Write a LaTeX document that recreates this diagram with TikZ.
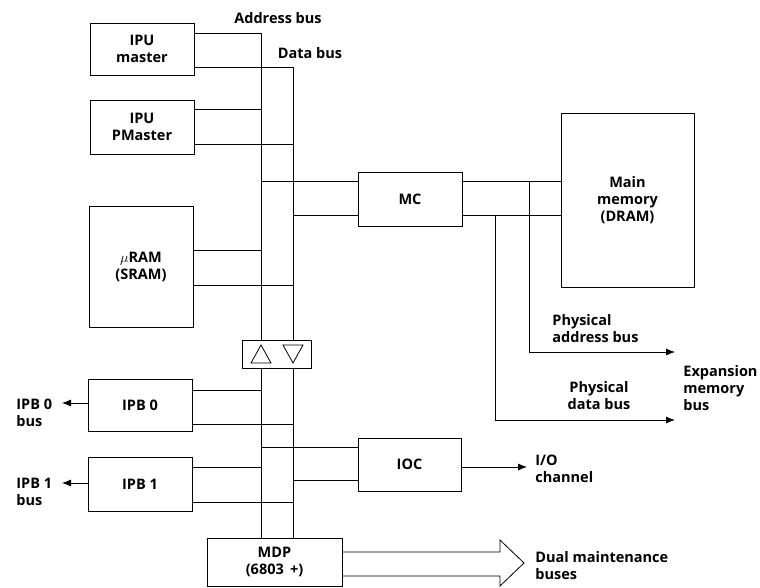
\documentclass[tikz,border=0pt]{standalone}
\usepackage{fontspec}
\setmainfont{Open Sans}
\usetikzlibrary{arrows.meta,calc}
\begin{document}
\begin{tikzpicture}[x=1pt,y=-1pt,
  line width=0.8pt,
  every node/.style={font=\fontsize{14.5}{17}\selectfont\bfseries},
  blk/.style={draw,align=center,inner sep=0pt},
  lbl/.style={align=left,inner sep=0pt},
  arr/.style={-{Latex[length=9pt,width=7pt]}}]
\useasboundingbox (0,0) rectangle (760,588);
% blocks
\node[blk,minimum width=104,minimum height=52] (ipum) at (142,49) {IPU\\master};
\node[blk,minimum width=104,minimum height=54] (ipup) at (142,127) {IPU\\PMaster};
\node[blk,minimum width=104,minimum height=121] (uram) at (141,266.5) {$\mu$RAM\\(SRAM)};
\node[blk,minimum width=69,minimum height=28] (buf) at (276.5,354) {};
\node[blk,minimum width=104,minimum height=52] (ipb0) at (140,405) {IPB 0};
\node[blk,minimum width=104,minimum height=54] (ipb1) at (140,484) {IPB 1};
\node[blk,minimum width=135,minimum height=48] (mdp) at (274.5,562) {MDP\\(6803\ \,+)};
\node[blk,minimum width=104,minimum height=54] (mc) at (410,199) {MC};
\node[blk,minimum width=133,minimum height=174] (mm) at (627.5,200) {Main\\memory\\(DRAM)};
\node[blk,minimum width=103,minimum height=53] (ioc) at (409.5,464.5) {IOC};
% bus coordinates
\coordinate (atop) at (261,33);
\coordinate (dtop) at (293,67);
% buses
\draw (ipum.east |- atop) -- (atop) -- (buf.north -| atop);
\draw (ipum.east |- dtop) -- (dtop) -- (buf.north -| dtop);
\draw (buf.south -| atop) -- (mdp.north -| atop);
\draw (buf.south -| dtop) -- (mdp.north -| dtop);
% buffer triangles
\draw ($(buf.center -| atop)+(-10,9)$) -- ++(20,0) -- ++(-10,-18) -- cycle;
\draw ($(buf.center -| dtop)+(-10,-9)$) -- ++(20,0) -- ++(-10,18) -- cycle;
% block to bus connections
\draw (ipup.east |- 0,109) -- (atop |- 0,109);
\draw (ipup.east |- 0,144) -- (dtop |- 0,144);
\draw (uram.east |- 0,250) -- (atop |- 0,250);
\draw (uram.east |- 0,285) -- (dtop |- 0,285);
\draw (ipb0.east |- 0,390) -- (atop |- 0,390);
\draw (ipb0.east |- 0,424) -- (dtop |- 0,424);
\draw (ipb1.east |- 0,467) -- (atop |- 0,467);
\draw (ipb1.east |- 0,502) -- (dtop |- 0,502);
\draw (atop |- 0,181) -- (mc.west |- 0,181);
\draw (dtop |- 0,215) -- (mc.west |- 0,215);
\draw (atop |- 0,447) -- (ioc.west |- 0,447);
\draw (dtop |- 0,480) -- (ioc.west |- 0,480);
% MC to main memory
\draw (mc.east |- 0,181) -- (mm.west |- 0,181);
\draw (mc.east |- 0,215) -- (mm.west |- 0,215);
\coordinate (pa) at (529,181);
\coordinate (pd) at (495,215);
\coordinate (paend) at (675,352);
\coordinate (pdend) at (675,420);
\draw[arr] (pa) -- (pa |- paend) -- (paend);
\draw[arr] (pd) -- (pd |- pdend) -- (pdend);
% outputs
\coordinate (io) at (527,467);
\draw[arr] (ioc.east |- io) -- (io);
\coordinate (b0) at (62,403);
\coordinate (b1) at (62,483);
\draw[arr] (ipb0.west |- b0) -- (b0);
\draw[arr] (ipb1.west |- b1) -- (b1);
% big hollow arrow
\draw[line join=miter] (mdp.east |- 0,552) -- (500,552) -- (500,540) -- (524,563) -- (500,586) -- (500,576) -- (mdp.east |- 0,576);
% labels
\node[lbl] (lab) at (278,18) {Address bus};
\node[lbl] (ldb) at (310,53) {Data bus};
\node[lbl,anchor=west] (lpa) at (552,329) {Physical\\address bus};
\node[lbl,align=center] (lpd) at (599,396) {Physical\\data bus};
\node[lbl,anchor=west] (lexp) at (683,388) {Expansion\\memory\\bus};
\node[lbl,anchor=west] (lio) at (535,469) {I/O\\channel};
\node[lbl,anchor=west] (ldm) at (535,566) {Dual maintenance\\buses};
\node[lbl,anchor=west] (lb0) at (16,413) {IPB 0\\bus};
\node[lbl,anchor=west] (lb1) at (16,492) {IPB 1\\bus};
\end{tikzpicture}
\end{document}
